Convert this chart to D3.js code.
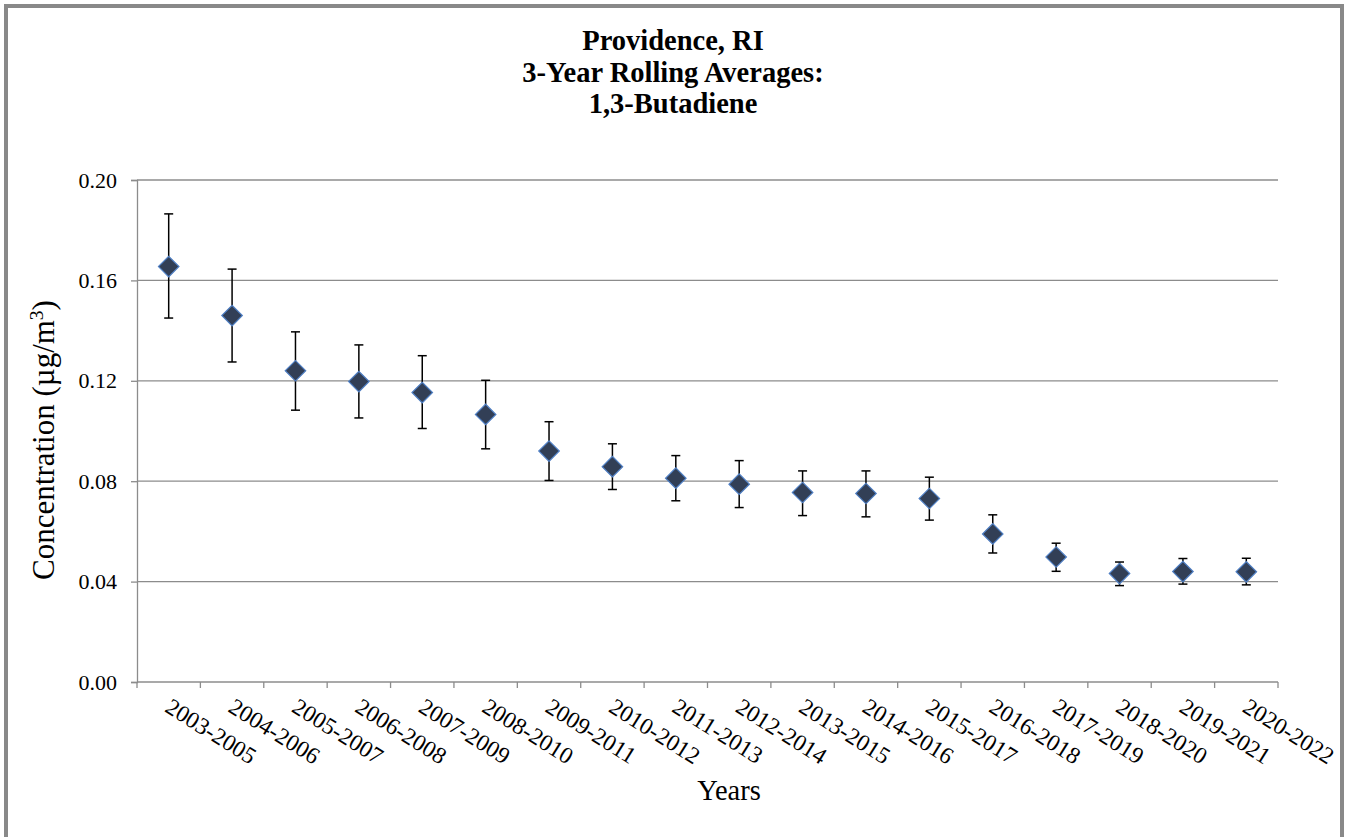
<!DOCTYPE html>
<html>
<head>
<meta charset="utf-8">
<script src="https://cdn.jsdelivr.net/npm/d3@7"></script>
<style>
  html, body { margin: 0; padding: 0; background: #fff; }
  svg { display: block; font-family: "Liberation Serif", "Times New Roman", serif; }
</style>
</head>
<body>
<svg id="chart" width="1345" height="837"></svg>
<script>
// 3-year rolling averages of 1,3-butadiene, with 95% confidence limits
const categories = ["2003-2005","2004-2006","2005-2007","2006-2008","2007-2009","2008-2010",
  "2009-2011","2010-2012","2011-2013","2012-2014","2013-2015","2014-2016","2015-2017",
  "2016-2018","2017-2019","2018-2020","2019-2021","2020-2022"];
const means = [0.1655,0.1460,0.1240,0.1197,0.1153,0.1066,0.0920,0.0858,0.0812,0.0788,
  0.0755,0.0751,0.0731,0.0590,0.0498,0.0432,0.0440,0.0439];
const upper = [0.1865,0.1645,0.1395,0.1343,0.1300,0.1202,0.1037,0.0949,0.0902,0.0882,
  0.0841,0.0841,0.0816,0.0666,0.0553,0.0478,0.0492,0.0493];
const lower = [0.1450,0.1275,0.1083,0.1052,0.1010,0.0929,0.0803,0.0767,0.0722,0.0695,
  0.0663,0.0658,0.0645,0.0514,0.0441,0.0384,0.0390,0.0387];
const yTicks = [0, 0.04, 0.08, 0.12, 0.16, 0.20];
const titleLines = ["Providence, RI", "3-Year Rolling Averages:", "1,3-Butadiene"];

const svg = d3.select("#chart");
const W = 1345, H = 837;
const plot = { left: 137, right: 1278, top: 180, bottom: 682 };
const axisColor = "#8c8c8c";

// outer chart frame
svg.append("rect").attr("x", 0).attr("y", 0).attr("width", W).attr("height", H).attr("fill", "#fff");
svg.append("rect")
  .attr("x", 6).attr("y", 6).attr("width", 1336).attr("height", 850)
  .attr("fill", "none").attr("stroke", "#898989").attr("stroke-width", 4);

const x = d3.scaleBand().domain(categories).range([plot.left, plot.right]).paddingInner(0).paddingOuter(0);
const y = d3.scaleLinear().domain([0, 0.2]).range([plot.bottom, plot.top]);

// horizontal gridlines
svg.append("g").selectAll("line").data(yTicks.filter(d => d > 0)).join("line")
  .attr("x1", plot.left).attr("x2", plot.right)
  .attr("y1", d => y(d)).attr("y2", d => y(d))
  .attr("stroke", axisColor).attr("stroke-width", 1.3);

// y axis
const yAxis = svg.append("g").attr("transform", `translate(${plot.left},0)`)
  .call(d3.axisLeft(y).tickValues(yTicks).tickFormat(d3.format(".2f")).tickSizeOuter(0).tickSize(6).tickPadding(14));
yAxis.select(".domain").attr("stroke", axisColor).attr("stroke-width", 1.3);
yAxis.selectAll(".tick line").attr("stroke", axisColor).attr("stroke-width", 1.3);
yAxis.selectAll(".tick text").attr("font-size", 22).attr("fill", "#000")
  .attr("font-family", "Liberation Serif, Times New Roman, serif");

// x axis: ticks sit on category boundaries
const xg = svg.append("g").attr("transform", `translate(0,${plot.bottom})`);
xg.append("line").attr("x1", plot.left).attr("x2", plot.right).attr("y1", 0).attr("y2", 0)
  .attr("stroke", axisColor).attr("stroke-width", 1.3);
const boundaries = categories.map(c => x(c)).concat([x(categories[categories.length - 1]) + x.bandwidth()]);
xg.selectAll("line.tk").data(boundaries).join("line").attr("class", "tk")
  .attr("x1", d => d).attr("x2", d => d).attr("y1", 0).attr("y2", 6)
  .attr("stroke", axisColor).attr("stroke-width", 1.3);
xg.selectAll("text").data(categories).join("text")
  .attr("transform", d => `translate(${x(d) + x.bandwidth() / 2 - 5},29) rotate(32)`)
  .attr("font-size", 23.5).attr("fill", "#000")
  .text(d => d);

// error bars
const cx = d => x(d) + x.bandwidth() / 2;
const bars = svg.append("g").selectAll("g").data(categories).join("g");
bars.append("line")
  .attr("x1", cx).attr("x2", cx)
  .attr("y1", (d, i) => y(upper[i])).attr("y2", (d, i) => y(lower[i]))
  .attr("stroke", "#000").attr("stroke-width", 1.5);
bars.append("line")
  .attr("x1", d => cx(d) - 4.5).attr("x2", d => cx(d) + 4.5)
  .attr("y1", (d, i) => y(upper[i])).attr("y2", (d, i) => y(upper[i]))
  .attr("stroke", "#000").attr("stroke-width", 1.5);
bars.append("line")
  .attr("x1", d => cx(d) - 4.5).attr("x2", d => cx(d) + 4.5)
  .attr("y1", (d, i) => y(lower[i])).attr("y2", (d, i) => y(lower[i]))
  .attr("stroke", "#000").attr("stroke-width", 1.5);

// diamond markers
const diamond = d3.symbol().type(d3.symbolSquare).size(210);
svg.append("g").selectAll("path").data(categories).join("path")
  .attr("d", diamond)
  .attr("transform", (d, i) => `translate(${cx(d)},${y(means[i])}) rotate(45)`)
  .attr("fill", "#323f56").attr("stroke", "#4f7fc4").attr("stroke-width", 1.2);

// titles
const title = svg.append("text").attr("text-anchor", "middle").attr("font-weight", "bold")
  .attr("font-size", 28.5).attr("fill", "#000");
titleLines.forEach((t, i) => {
  title.append("tspan").attr("x", 673).attr("y", 50 + i * 31.6).text(t);
});

svg.append("text").attr("x", 729).attr("y", 800).attr("text-anchor", "middle")
  .attr("font-size", 28.5).attr("fill", "#000").text("Years");

const yt = svg.append("text")
  .attr("transform", `translate(54,440) rotate(-90)`)
  .attr("text-anchor", "middle").attr("font-size", 31).attr("fill", "#000");
yt.append("tspan").text("Concentration (µg/m");
yt.append("tspan").attr("font-size", 19.5).attr("dy", -11).text("3");
yt.append("tspan").attr("dy", 11).text(")");
</script>
</body>
</html>
